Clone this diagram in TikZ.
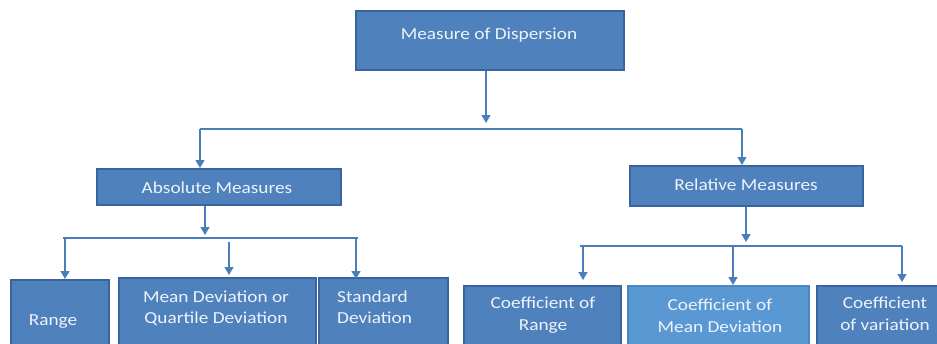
\documentclass[tikz,border=0pt]{standalone}
\usepackage{fontspec}
\setmainfont{Carlito}[FakeStretch=1.15]
\usetikzlibrary{arrows.meta}
\definecolor{boxfill}{HTML}{4F81BD}
\definecolor{boxedge}{HTML}{3A64A0}
\definecolor{litefill}{HTML}{5A98D4}
\definecolor{liteedge}{HTML}{4A86C6}
\definecolor{wirecol}{HTML}{4A7EBB}
\definecolor{labeltext}{HTML}{EEF3FA}
\begin{document}
\begin{tikzpicture}[x=1pt,y=-1pt,
  box/.style={draw=boxedge, fill=boxfill, line width=2.2pt, inner sep=0pt, anchor=north west},
  lite/.style={box, draw=liteedge, fill=litefill},
  lbl/.style={text=labeltext, font=\fontsize{16.8}{21}\selectfont, inner sep=0pt, anchor=base},
  wire/.style={draw=wirecol, line width=1.3pt},
  arr/.style={wire, -{Triangle[width=9pt,length=8pt]}}]
\path[use as bounding box, clip] (0,0) rectangle (937,343);
\fill[white] (0,0) rectangle (937,343);

% boxes
\node[box, minimum width=268pt, minimum height=59pt] (top) at (355,10) {};
\node[box, minimum width=244pt, minimum height=36pt] (abs) at (96,168) {};
\node[box, minimum width=233pt, minimum height=40pt] (rel) at (629,165) {};
\node[box, minimum width=98pt,  minimum height=90pt] (range) at (10,279) {};
\node[box, minimum width=197pt, minimum height=90pt] (mdev) at (118,277) {};
\node[box, minimum width=129pt, minimum height=90pt] (sdev) at (318,277) {};
\node[box, minimum width=157pt, minimum height=90pt] (crange) at (463,285) {};
\node[lite, minimum width=181pt, minimum height=90pt] (cmdev) at (627,285) {};
\node[box, minimum width=130pt, minimum height=90pt] (cvar) at (816,285) {};

% labels
\node[lbl] (topT) at (489,39) {Measure of Dispersion};
\node[lbl] (absT) at (217,193) {Absolute Measures};
\node[lbl] (relT) at (746,190) {Relative Measures};
\node[lbl] (rangeT) at (53,325) {Range};
\node[lbl] (mdevT1) at (216,302) {Mean Deviation or};
\node[lbl] (mdevT2) at (216,323) {Quartile Deviation};
\node[lbl, anchor=base west] (sdevT1) at (337,302) {Standard};
\node[lbl, anchor=base west] (sdevT2) at (337,323) {Deviation};
\node[lbl] (crangeT1) at (543,308) {Coefficient of};
\node[lbl] (crangeT2) at (543,330) {Range};
\node[lbl] (cmdevT1) at (720,310) {Coefficient of};
\node[lbl] (cmdevT2) at (720,332) {Mean Deviation};
\node[lbl] (cvarT1) at (885,308) {Coefficient};
\node[lbl] (cvarT2) at (885,330) {of variation};

% first level
\coordinate (busAL) at (200,129);
\coordinate (busAR) at (742,129);
\draw[arr] (top.south -| 486,0) -- (486,123);
\draw[wire] (busAL) -- (busAR);
\draw[arr] (busAL) -- (abs.north -| busAL);
\draw[arr] (busAR) -- (rel.north -| busAR);

% absolute measures
\coordinate (busBL) at (63,238);
\coordinate (busBR) at (358,238);
\draw[wire] (busBL) -- (busBR);
\draw[arr] (abs.south -| 205,0) -- (205,235);
\draw[arr] (65,238) -- (range.north -| 65,0);
\draw[arr] (229,242) -- (229,275);
\draw[arr] (356,238) -- (356,279);

% relative measures
\coordinate (busCL) at (580,246);
\coordinate (busCR) at (902,246);
\draw[wire] (busCL) -- (busCR);
\draw[arr] (rel.south -| 746,0) -- (746,242);
\draw[arr] (583,246) -- (583,280);
\draw[arr] (733,246) -- (cmdev.north -| 733,0);
\draw[arr] (902,246) -- (902,282);
\end{tikzpicture}
\end{document}
